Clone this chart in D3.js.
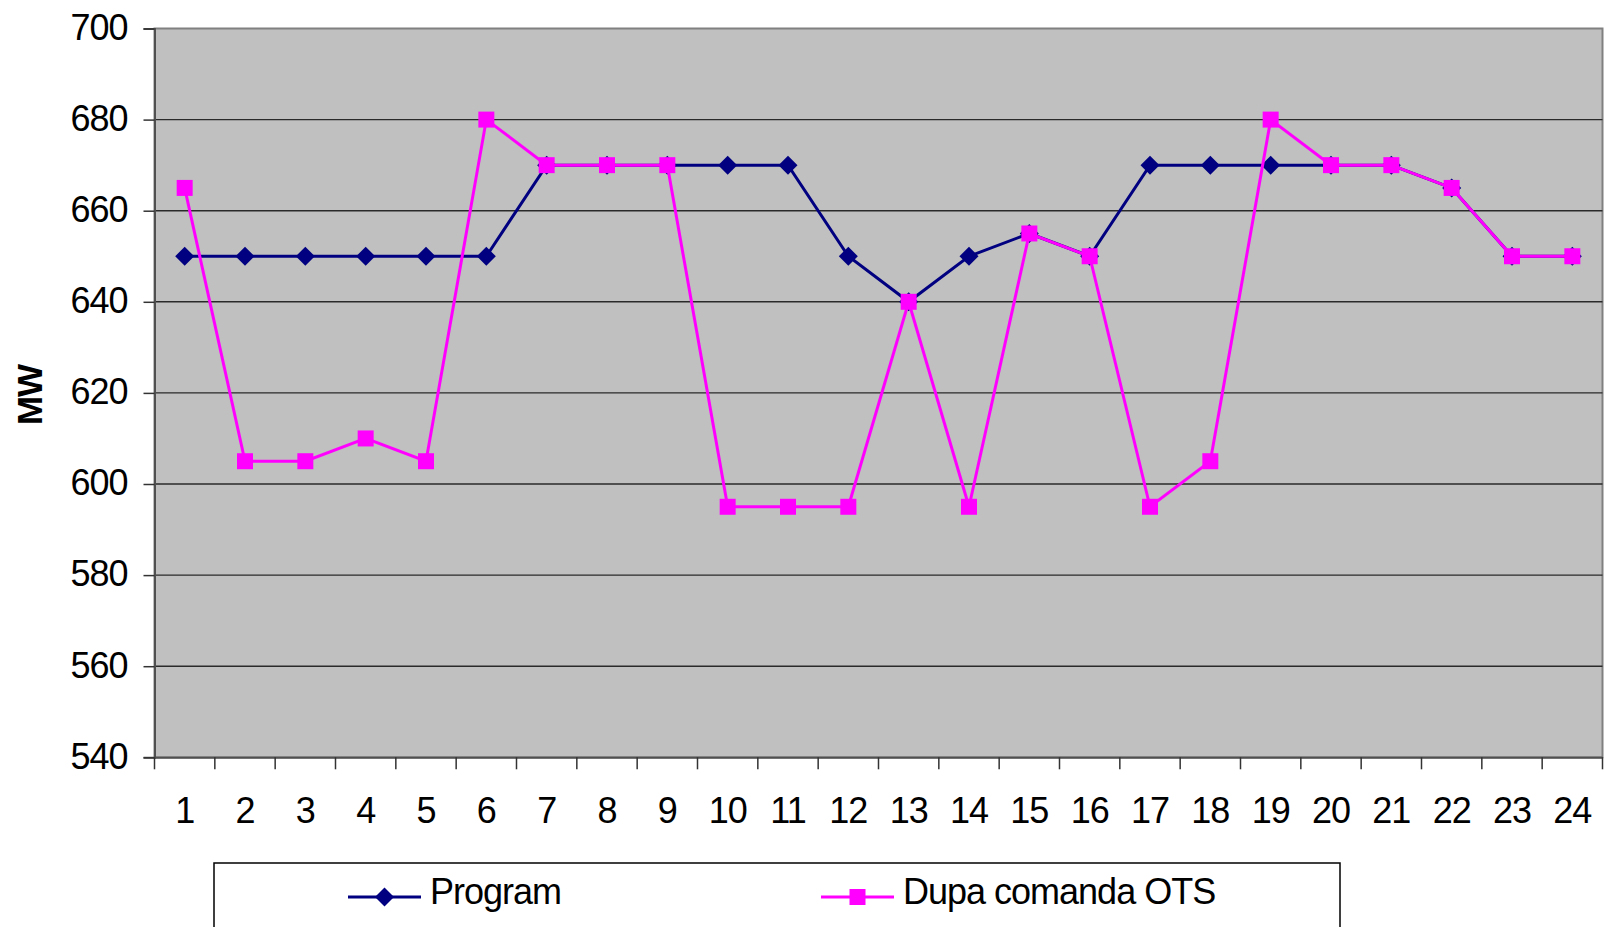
<!DOCTYPE html>
<html>
<head>
<meta charset="utf-8">
<script src="https://cdn.jsdelivr.net/npm/d3@7"></script>
<style>
  body { margin: 0; background: #fff; }
  text { font-family: "Liberation Sans", Arial, sans-serif; }
</style>
</head>
<body>
<div id="chart"></div>
<script>
const hours = d3.range(1, 25).map(String);
const program = [650, 650, 650, 650, 650, 650, 670, 670, 670, 670, 670, 650,
                 640, 650, 655, 650, 670, 670, 670, 670, 670, 665, 650, 650];
const dupaComanda = [665, 605, 605, 610, 605, 680, 670, 670, 670, 595, 595, 595,
                     640, 595, 655, 650, 595, 605, 680, 670, 670, 665, 650, 650];
const yTicks = [540, 560, 580, 600, 620, 640, 660, 680, 700];
const seriesNames = ["Program", "Dupa comanda OTS"];

const width = 1604, height = 927;
const marginLeft = 154.5, marginRight = 1.5, marginTop = 28.5, bottomY = 757.3;

const svg = d3.select("#chart").append("svg")
    .attr("width", width)
    .attr("height", height)
    .attr("viewBox", [0, 0, width, height]);

const x = d3.scaleBand()
    .domain(hours)
    .range([marginLeft, width - marginRight])
    .padding(0);
const y = d3.scaleLinear()
    .domain([540, 700])
    .range([bottomY, marginTop]);

// plot area
svg.append("rect")
    .attr("x", marginLeft)
    .attr("y", marginTop)
    .attr("width", width - marginRight - marginLeft)
    .attr("height", bottomY - marginTop)
    .attr("fill", "#c0c0c0")
    .attr("stroke", "#808080")
    .attr("stroke-width", 2);

// gridlines
svg.append("g")
    .attr("stroke", "#2a2a2a")
    .attr("stroke-width", 1.4)
  .selectAll("line")
  .data(yTicks.slice(1, -1))
  .join("line")
    .attr("x1", marginLeft)
    .attr("x2", width - marginRight)
    .attr("y1", d => y(d))
    .attr("y2", d => y(d));

// y axis
svg.append("g")
    .attr("transform", `translate(${marginLeft},0)`)
    .call(d3.axisLeft(y).tickValues(yTicks).tickSize(11).tickPadding(16))
    .call(g => g.select(".domain").attr("stroke", "#505050").attr("stroke-width", 2))
    .call(g => g.selectAll(".tick line").attr("stroke", "#333").attr("stroke-width", 1.5))
    .call(g => g.selectAll(".tick text")
        .attr("fill", "#000")
        .attr("font-size", 36)
        .attr("letter-spacing", -1)
        .attr("dy", "0.3em"));

// x axis: labels centred in bands, ticks on band boundaries
svg.append("g")
    .attr("transform", `translate(0,${bottomY})`)
    .call(d3.axisBottom(x).tickSize(0).tickPadding(53))
    .call(g => g.select(".domain").attr("stroke", "#505050").attr("stroke-width", 2))
    .call(g => g.selectAll(".tick text")
        .attr("fill", "#000")
        .attr("font-size", 36)
        .attr("letter-spacing", -1)
        .attr("dy", "0.35em"));

svg.append("g")
    .attr("stroke", "#333")
    .attr("stroke-width", 1.5)
  .selectAll("line")
  .data(hours.concat(["end"]))
  .join("line")
    .attr("x1", d => d === "end" ? width - marginRight : x(d))
    .attr("x2", d => d === "end" ? width - marginRight : x(d))
    .attr("y1", bottomY)
    .attr("y2", bottomY + 12);

// axis title
svg.append("text")
    .attr("transform", "translate(42,395) rotate(-90)")
    .attr("text-anchor", "middle")
    .attr("font-size", 35)
    .attr("font-weight", "bold")
    .attr("letter-spacing", -1)
    .text("MW");

const cx = d => x(d) + x.bandwidth() / 2;
const line = d3.line()
    .x(d => cx(d.hour))
    .y(d => y(d.value));

const programData = hours.map((h, i) => ({hour: h, value: program[i]}));
const dupaData = hours.map((h, i) => ({hour: h, value: dupaComanda[i]}));

// square-proportioned diamond like the spreadsheet marker
const diamond = "M0,-9.5L9.5,0L0,9.5L-9.5,0Z";
const square = "M-8,-8h16v16h-16z";

// Program series
svg.append("path")
    .datum(programData)
    .attr("fill", "none")
    .attr("stroke", "#000080")
    .attr("stroke-width", 3)
    .attr("d", line);
svg.append("g")
    .attr("fill", "#000080")
  .selectAll("path")
  .data(programData)
  .join("path")
    .attr("transform", d => `translate(${cx(d.hour)},${y(d.value)})`)
    .attr("d", diamond);

// Dupa comanda OTS series
svg.append("path")
    .datum(dupaData)
    .attr("fill", "none")
    .attr("stroke", "#ff00ff")
    .attr("stroke-width", 3)
    .attr("d", line);
svg.append("g")
    .attr("fill", "#ff00ff")
  .selectAll("path")
  .data(dupaData)
  .join("path")
    .attr("transform", d => `translate(${cx(d.hour)},${y(d.value)})`)
    .attr("d", square);

// legend
svg.append("rect")
    .attr("x", 214)
    .attr("y", 863)
    .attr("width", 1126)
    .attr("height", 100)
    .attr("fill", "#fff")
    .attr("stroke", "#000")
    .attr("stroke-width", 1.5);

const legendItems = [
    {name: seriesNames[0], color: "#000080", x0: 348, marker: diamond},
    {name: seriesNames[1], color: "#ff00ff", x0: 821, marker: square}
];
const lg = svg.append("g")
  .selectAll("g")
  .data(legendItems)
  .join("g")
    .attr("transform", d => `translate(${d.x0},897)`);
lg.append("line")
    .attr("x1", 0).attr("x2", 73)
    .attr("stroke", d => d.color)
    .attr("stroke-width", 3);
lg.append("path")
    .attr("transform", "translate(36.5,0)")
    .attr("fill", d => d.color)
    .attr("d", d => d.marker);
lg.append("text")
    .attr("x", 82)
    .attr("y", 0)
    .attr("dy", "0.2em")
    .attr("font-size", 36)
    .attr("letter-spacing", -1)
    .text(d => d.name);
</script>
</body>
</html>
